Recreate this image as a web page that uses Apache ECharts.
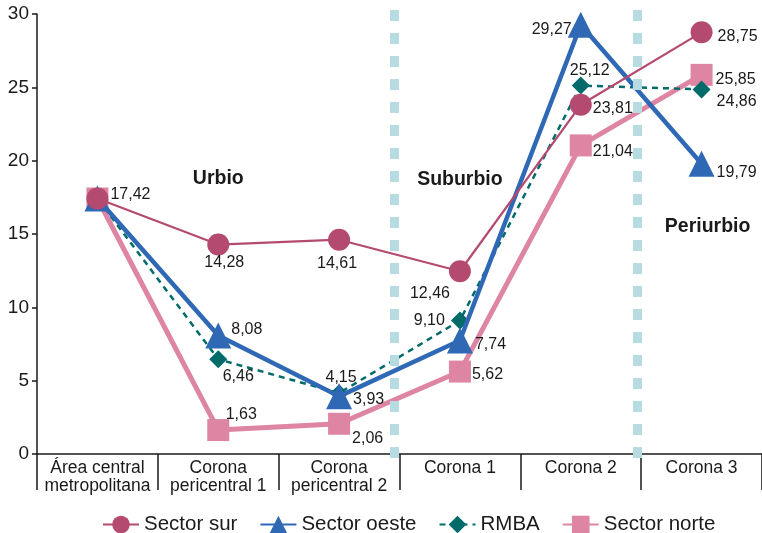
<!DOCTYPE html>
<html>
<head>
<meta charset="utf-8">
<script src="https://cdn.jsdelivr.net/npm/echarts@6/dist/echarts.min.js"></script>
<style>
  html, body { margin: 0; padding: 0; background: #fff; }
  #chart { width: 762px; height: 533px; }
</style>
</head>
<body>
<div id="chart"></div>
<script>
const categories = ['Área central\nmetropolitana', 'Corona\npericentral 1', 'Corona\npericentral 2', 'Corona 1', 'Corona 2', 'Corona 3'];
const sectorSur = [17.42, 14.28, 14.61, 12.46, 23.81, 28.75];
const sectorOeste = [17.42, 8.08, 3.93, 7.74, 29.27, 19.79];
const rmba = [17.42, 6.46, 4.15, 9.10, 25.12, 24.86];
const sectorNorte = [17.42, 1.63, 2.06, 5.62, 21.04, 25.85];
const yTicks = [0, 5, 10, 15, 20, 25, 30];
const zoneBreaks = [2.96, 4.975];
const zones = [
  { name: 'Urbio', x: 1.5, y: 18.8 },
  { name: 'Suburbio', x: 3.5, y: 18.7 },
  { name: 'Periurbio', x: 5.55, y: 15.5 }
];

// label placement per point: [position, offsetX, offsetY]; null = hidden
const surLabels = [['right', -2, -4], ['bottom', 6, -5], ['bottom', -2, 1], ['bottom', -30, -1], ['right', -3, 4], ['right', 1, 4]];
const oesteLabels = [null, ['right', -4, -6], ['right', -3, 3], ['right', -2, 4], ['left', 8, 5], ['right', -2, 9]];
const rmbaLabels = [null, ['bottom', 20, -4], ['top', 2, 5], ['left', -2, 0], ['top', 9, 6], ['right', 2, 12]];
const norteLabels = [null, ['top', 23, 8], ['right', -2, 15], ['right', -3, 3], ['right', -3, 6], ['right', -1, 5]];

const fmt = v => v.toFixed(2).replace('.', ',');

const buildData = (values, labels) => values.map((v, i) => {
  const l = labels[i];
  if (!l) return { value: v, label: { show: false } };
  return { value: v, label: { show: true, position: l[0], offset: [l[1], l[2]] } };
});

const labelStyle = {
  show: true,
  color: '#1a1a1a',
  fontSize: 16,
  fontFamily: 'Liberation Sans, Arial, sans-serif',
  formatter: p => fmt(p.value),
  distance: 4
};

const chart = echarts.init(document.getElementById('chart'));

const option = {
  animation: false,
  textStyle: { fontFamily: 'Liberation Sans, Arial, sans-serif' },
  grid: [
    { left: 37, right: 0, top: 14, bottom: 79, containLabel: false },
    { left: 37, right: 0, top: 0, bottom: 75, containLabel: false }
  ],
  legend: {
    left: 97,
    top: 509,
    itemWidth: 36,
    itemHeight: 22,
    itemGap: 22,
    textStyle: { fontSize: 20.5, color: '#1a1a1a' },
    data: ['Sector sur', 'Sector oeste', 'RMBA', 'Sector norte']
  },
  xAxis: [
    {
      type: 'category',
      data: categories,
      boundaryGap: true,
      axisLine: { lineStyle: { color: '#1a1a1a', width: 1.5 } },
      axisTick: { show: true, length: 36, lineStyle: { color: '#1a1a1a', width: 1.5 } },
      axisLabel: { color: '#1a1a1a', fontSize: 17.5, margin: 5, lineHeight: 18, interval: 0 }
    },
    { type: 'value', min: 0, max: 6, show: false, gridIndex: 1 },
    { type: 'value', min: 0, max: 6, show: false, gridIndex: 0 }
  ],
  yAxis: [
    {
      type: 'value',
      min: 0,
      max: 30,
      interval: 5,
      axisLine: { show: true, lineStyle: { color: '#1a1a1a', width: 1.5 } },
      axisTick: { show: true, length: 5, lineStyle: { color: '#1a1a1a', width: 1.5 } },
      axisLabel: { color: '#1a1a1a', fontSize: 19, margin: 8 },
      splitLine: { show: false }
    },
    { type: 'value', min: 0, max: 1, show: false, gridIndex: 1 }
  ],
  series: [
    {
      name: 'zoneBreaks',
      type: 'line',
      xAxisIndex: 1,
      yAxisIndex: 1,
      data: [],
      silent: true,
      markLine: {
        symbol: 'none',
        silent: true,
        label: { show: false },
        lineStyle: { color: '#b6dce2', width: 9, type: [11, 12], opacity: 1 },
        data: zoneBreaks.map(x => ({ xAxis: x }))
      },
      z: 1
    },
    {
      name: 'zoneNames',
      type: 'line',
      xAxisIndex: 2,
      yAxisIndex: 0,
      data: [],
      silent: true,
      markPoint: {
        symbol: 'rect',
        symbolSize: 0,
        label: {
          show: true,
          color: '#1a1a1a',
          fontSize: 19.5,
          fontWeight: 'bold',
          formatter: p => p.name
        },
        data: zones.map(z => ({ name: z.name, coord: [z.x, z.y] }))
      },
      z: 1
    },
    {
      name: 'Sector norte',
      type: 'line',
      data: buildData(sectorNorte, norteLabels),
      symbol: 'rect',
      symbolSize: 22,
      itemStyle: { color: '#dd85a2' },
      lineStyle: { color: '#dd85a2', width: 5 },
      label: labelStyle,
      z: 2
    },
    {
      name: 'RMBA',
      type: 'line',
      data: buildData(rmba, rmbaLabels),
      symbol: 'diamond',
      symbolSize: 18,
      itemStyle: { color: '#006b69' },
      lineStyle: { color: '#006b69', width: 2.5, type: [6, 5] },
      label: labelStyle,
      z: 3
    },
    {
      name: 'Sector oeste',
      type: 'line',
      data: buildData(sectorOeste, oesteLabels),
      symbol: 'triangle',
      symbolSize: 26,
      itemStyle: { color: '#2f68b4' },
      lineStyle: { color: '#2f68b4', width: 4.5 },
      label: labelStyle,
      z: 4
    },
    {
      name: 'Sector sur',
      type: 'line',
      data: buildData(sectorSur, surLabels),
      symbol: 'circle',
      symbolSize: 22,
      itemStyle: { color: '#b54a70' },
      lineStyle: { color: '#b54a70', width: 2.2 },
      label: labelStyle,
      z: 5
    }
  ]
};

chart.setOption(option);
</script>
</body>
</html>
